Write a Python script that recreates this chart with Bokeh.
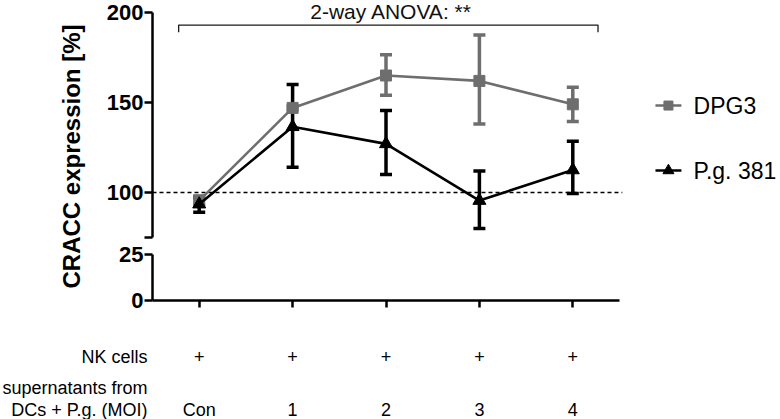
import math
from bokeh.plotting import figure
from bokeh.models import (Range1d, FixedTicker, Whisker, TeeHead, ColumnDataSource, Label)
from bokeh.layouts import row, column
from bokeh.embed import file_html
from bokeh.resources import INLINE
from bokeh.core.properties import value

# ---------------- data ----------------
categories = ["Con", "1", "2", "3", "4"]
nk_cells = ["+", "+", "+", "+", "+"]

dpg3_mean = [95.5, 147.0, 165.0, 162.0, 149.0]
dpg3_lower = [93.0, 146.0, 154.0, 138.0, 139.5]
dpg3_upper = [98.0, 148.0, 176.5, 187.5, 158.5]

pg381_mean = [93.5, 136.5, 127.0, 95.5, 112.5]
pg381_lower = [89.0, 114.0, 110.0, 80.0, 99.5]
pg381_upper = [97.0, 160.0, 145.5, 112.0, 128.5]

upper_ticks = [75, 100, 150, 200]
upper_tick_labels = {75: "", 100: "100", 150: "150", 200: "200"}
lower_ticks = [0, 25]
reference_level = 100

series_names = ["DPG3", "P.g. 381"]
anova_text = "2-way ANOVA: **"
y_title = "CRACC expression [%]"
row_label_nk = "NK cells"
row_label_sup = ["supernatants from", "DCs + P.g. (MOI)"]

bracket_x = [-0.22, 4.27]
bracket_y = [189.0, 193.0]

# legend key placement (data units of the upper panel)
legend_key_x = [4.885, 5.163]
legend_text_x = 5.293
legend_y = [148.3, 112.2]

# ---------------- style / layout ----------------
FONT = "Liberation Sans"
GRAY = "#6e6e6e"
BLACK = "#000000"

x = list(range(len(categories)))
X0, X1 = -0.5, len(categories) - 0.5
FRAME_W = 467
PX = FRAME_W / (X1 - X0)
PY = 1.8                      # px per unit, upper panel
TOTAL_W = 780
L_W = 103
MAIN_W = TOTAL_W - L_W
B_LEFT = 49
U_H, D_H = 241, 69
B_H = 109
X_END = X0 + (MAIN_W - B_LEFT) / PX      # frames run to the right edge
U_YEND = 200 + 12 / PY                   # upper frame runs to the top edge


def style_axis(ax, ticks, overrides=None, tick_out=8):
    ax.ticker = FixedTicker(ticks=ticks)
    if overrides:
        ax.major_label_overrides = overrides
    ax.axis_line_width = 2.5
    ax.axis_line_color = BLACK
    ax.major_tick_line_width = 2.5
    ax.major_tick_line_color = BLACK
    ax.major_tick_out = tick_out
    ax.major_tick_in = 0
    ax.minor_tick_line_color = None
    ax.major_label_text_font = FONT
    ax.major_label_text_font_style = "bold"
    ax.major_label_text_font_size = "22px"
    ax.major_label_text_color = BLACK
    ax.major_label_standoff = 1


def base_fig(**kw):
    p = figure(output_backend="svg", toolbar_location=None, **kw)
    p.outline_line_color = None
    p.grid.visible = False
    p.background_fill_color = "white"
    p.border_fill_color = "white"
    return p


# ---------------- upper panel ----------------
U = base_fig(width=MAIN_W, height=U_H, x_range=Range1d(X0, X_END),
             y_range=Range1d(75, U_YEND),
             min_border_left=B_LEFT, min_border_right=0, min_border_top=0,
             min_border_bottom=4, x_axis_location=None)
U.yaxis.bounds = (75, 200)
style_axis(U.yaxis[0], upper_ticks, upper_tick_labels)

# dashed reference line across the data area
U.segment(x0=[X0], y0=[reference_level], x1=[X1 + 0.03], y1=[reference_level],
          line_color=BLACK, line_width=1.6, line_dash="4 3")

U.line(x=[bracket_x[0], bracket_x[0], bracket_x[1], bracket_x[1]],
       y=[bracket_y[0], bracket_y[1], bracket_y[1], bracket_y[0]],
       line_color="#1a1a1a", line_width=1.3)
U.text(x=[sum(bracket_x) / 2 + 0.03], y=[200.8], text=[anova_text],
       text_align="center", text_baseline="middle",
       text_font=value(FONT), text_font_size="21px", text_color="#111111")

src_d = ColumnDataSource(dict(x=x, m=dpg3_mean, lo=dpg3_lower, up=dpg3_upper))
src_p = ColumnDataSource(dict(x=x, m=pg381_mean, lo=pg381_lower, up=pg381_upper))

specs = [(src_d, GRAY, "square", 11, 9), (src_p, BLACK, "triangle", 13, 11)]
for i, (src, col, marker, msize, lsize) in enumerate(specs):
    U.add_layout(Whisker(source=src, base="x", lower="lo", upper="up",
                         line_color=col, line_width=3.5,
                         upper_head=TeeHead(size=12, line_color=col, line_width=3.5),
                         lower_head=TeeHead(size=12, line_color=col, line_width=3.5)))
    U.line(x="x", y="m", source=src, line_color=col, line_width=2.6)
    U.scatter(x="x", y="m", source=src, marker=marker, size=msize,
              fill_color=col, line_color=col)
    # legend key
    U.line(x=legend_key_x, y=[legend_y[i]] * 2, line_color=col, line_width=2.6)
    U.scatter(x=[sum(legend_key_x) / 2], y=[legend_y[i]], marker=marker, size=lsize,
              fill_color=col, line_color=col)
    U.text(x=[legend_text_x], y=[legend_y[i]], text=[series_names[i]],
           text_align="left", text_baseline="middle",
           text_font=value(FONT), text_font_size="23px", text_color=BLACK)

# ---------------- lower panel ----------------
D = base_fig(width=MAIN_W, height=D_H, x_range=Range1d(X0, X_END), y_range=Range1d(0, 25),
             min_border_left=B_LEFT, min_border_right=0, min_border_top=13,
             min_border_bottom=10)
style_axis(D.yaxis[0], lower_ticks)
xa = D.xaxis[0]
style_axis(xa, x, {i: "" for i in x}, tick_out=7)
xa.bounds = (X0, X1)
xa.major_label_text_font_size = "1px"
xa.major_label_standoff = 0

# ---------------- title strip ----------------
L_H = U_H + D_H
L = base_fig(width=L_W, height=L_H, x_range=Range1d(0, L_W), y_range=Range1d(0, L_H),
             min_border=0, x_axis_location=None, y_axis_location=None)
L.add_layout(Label(x=71, y=L_H - 156, text=y_title, angle=math.pi / 2,
                   text_align="center", text_baseline="middle",
                   text_font=FONT, text_font_style="bold",
                   text_font_size="24px", text_color=BLACK))

# ---------------- bottom labels ----------------
B = base_fig(width=TOTAL_W, height=B_H, x_range=Range1d(X0 - (L_W + B_LEFT) / PX, X_END),
             y_range=Range1d(0, B_H),
             min_border_left=0, min_border_right=0, min_border_top=0, min_border_bottom=0,
             x_axis_location=None, y_axis_location=None)
y_nk, y_sup1, y_sup2 = B_H - 46, B_H - 77, B_H - 99
B.text(x=x, y=[y_nk] * len(x), text=nk_cells, text_align="center", text_baseline="middle",
       text_font=value(FONT), text_font_size="18px", text_color=BLACK)
B.text(x=x, y=[y_sup2] * len(x), text=categories, text_align="center", text_baseline="middle",
       text_font=value(FONT), text_font_size="18px", text_color=BLACK)
lx = X0 - 5 / PX
B.text(x=[lx], y=[y_nk], text=[row_label_nk], text_align="right", text_baseline="middle",
       text_font=value(FONT), text_font_size="18px", text_color=BLACK)
B.text(x=[lx, lx], y=[y_sup1, y_sup2], text=row_label_sup, text_align="right",
       text_baseline="middle", text_font=value(FONT), text_font_size="18px",
       text_color=BLACK)

layout = column(row(L, column(U, D)), B)

open("out.html", "w").write(file_html(layout, INLINE))
